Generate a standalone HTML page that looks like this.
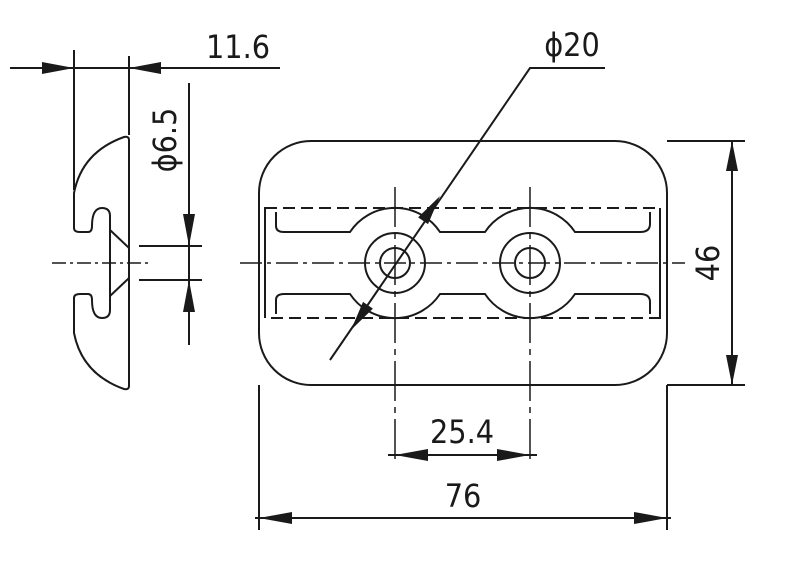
<!DOCTYPE html>
<html><head><style>html,body{margin:0;padding:0;background:#fff}svg{display:block}</style></head><body>
<svg width="800" height="567" viewBox="0 0 800 567" xmlns="http://www.w3.org/2000/svg" font-family="'DejaVu Sans Condensed','Liberation Sans',sans-serif">
<g stroke="#1a1a1a" stroke-width="2" fill="none">
<!-- left profile -->
<path d="M129,140 Q129,136 124,137 Q82,152 74,193 L74,228 Q74,232 80,232 L88,232 Q92,232 92,226 Q92,208 102,208 Q110,208 110,216 L110,310 Q110,318 102,318 Q92,318 92,300 Q92,294 88,294 L80,294 Q74,294 74,298 L74,333 Q82,374 124,389 Q129,390 129,386 Z"/>
<path d="M110,230 L129,248 L129,278 L110,296" />
<line x1="74" y1="50" x2="74" y2="190"/>
<line x1="129" y1="56" x2="129" y2="135"/>
<line x1="10" y1="68" x2="280" y2="68"/>
<line x1="139" y1="246" x2="202" y2="246"/>
<line x1="139" y1="280" x2="202" y2="280"/>
<line x1="189" y1="83" x2="189" y2="345"/>
<line x1="52" y1="263" x2="150" y2="263" stroke-dasharray="14,4,3,4" stroke-width="1.5"/>
<!-- main view -->
<rect x="259" y="141" width="408" height="244" rx="52"/>
<rect x="265" y="208" width="395" height="110" stroke-dasharray="12,6"/>
<line x1="265" y1="208" x2="265" y2="318"/>
<line x1="660" y1="208" x2="660" y2="318"/>
<path d="M276,212 L276,226 Q276,232 284,232 L350,232 A54,54 0 0 1 440,232 L485,232 A54,54 0 0 1 575,232 L640,232 Q650,232 650,224 L650,212"/>
<path d="M276,314 L276,300 Q276,294 284,294 L350,294 A54,54 0 0 0 440,294 L485,294 A54,54 0 0 0 575,294 L640,294 Q650,294 650,302 L650,314"/>
<circle cx="395" cy="263" r="30"/><circle cx="395" cy="263" r="15"/>
<circle cx="530" cy="263" r="30"/><circle cx="530" cy="263" r="15"/>
<line x1="240" y1="263" x2="685" y2="263" stroke-dasharray="22,5,4,5" stroke-width="1.5"/>
<line x1="395" y1="187" x2="395" y2="465" stroke-dasharray="40,6,6,6" stroke-width="1.5"/>
<line x1="530" y1="187" x2="530" y2="465" stroke-dasharray="40,6,6,6" stroke-width="1.5"/>
<!-- leader phi20 -->
<polyline points="330,360 530,68 605,68"/>
<!-- 46 -->
<line x1="667" y1="141" x2="745" y2="141"/>
<line x1="667" y1="385" x2="745" y2="385"/>
<line x1="732" y1="141" x2="732" y2="385"/>
<!-- bottom dims -->
<line x1="259" y1="385" x2="259" y2="530"/>
<line x1="667" y1="385" x2="667" y2="530"/>
<line x1="388" y1="455" x2="537" y2="455"/>
<line x1="255" y1="518" x2="671" y2="518"/>
</g>
<g fill="#1a1a1a">
<polygon points="74,68 42,62 42,74"/>
<polygon points="129,68 161,62 161,74"/>
<polygon points="189,246 183,214 195,214"/>
<polygon points="189,280 183,312 195,312"/>
<polygon points="732,141 726,171 738,171"/>
<polygon points="732,385 726,355 738,355"/>
<polygon points="395,455 428,449 428,461"/>
<polygon points="530,455 497,449 497,461"/>
<polygon points="259,518 292,512 292,524"/>
<polygon points="667,518 634,512 634,524"/>
<g transform="translate(440,196) rotate(-55.6)"><polygon points="0,0 -30,-6 -30,6"/></g>
<g transform="translate(351,330) rotate(124.4)"><polygon points="0,0 -30,-6 -30,6"/></g>
</g>
<g fill="#1a1a1a" font-size="32">
<text x="238" y="58" text-anchor="middle">11.6</text>
<text x="572" y="56" text-anchor="middle">ϕ20</text>
<text x="462" y="443" text-anchor="middle">25.4</text>
<text x="463" y="507" text-anchor="middle">76</text>
<text transform="translate(176,140) rotate(-90)" text-anchor="middle">ϕ6.5</text>
<text transform="translate(719,263) rotate(-90)" text-anchor="middle">46</text>
</g>
</svg>
</body></html>
